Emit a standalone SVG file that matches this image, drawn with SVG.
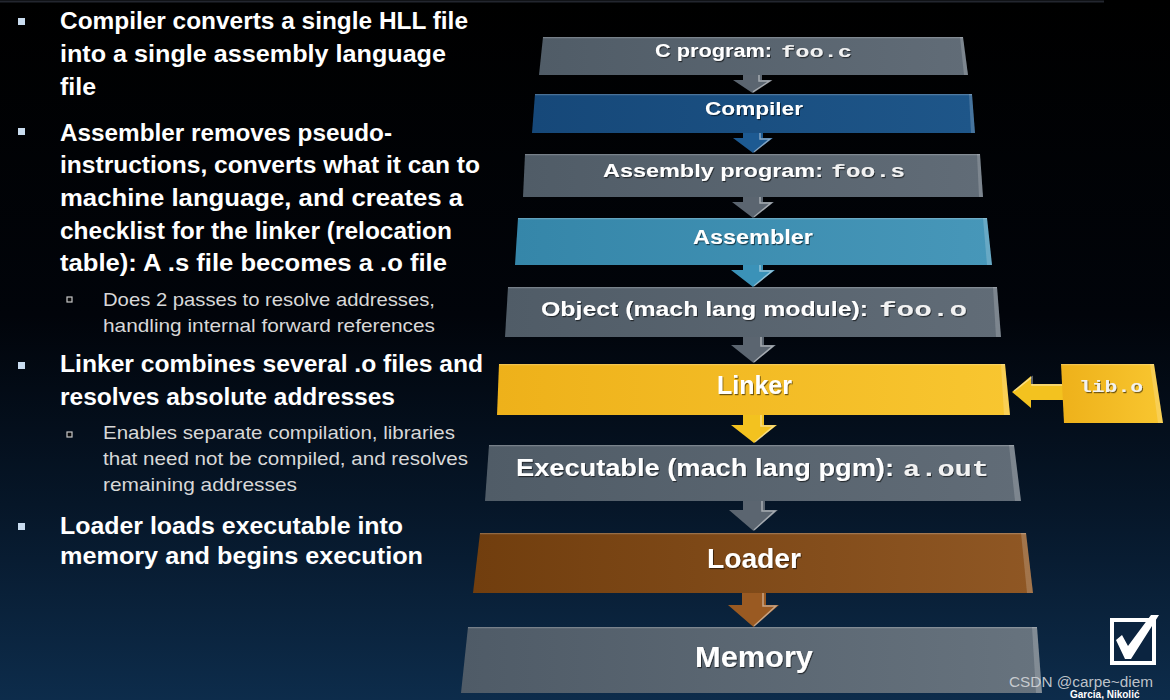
<svg xmlns="http://www.w3.org/2000/svg" width="1170" height="700" viewBox="0 0 1170 700">
<defs>
<linearGradient id="bg" x1="0" y1="0" x2="0" y2="1">
<stop offset="0" stop-color="#000000"/><stop offset="0.45" stop-color="#01040a"/><stop offset="0.72" stop-color="#061628"/><stop offset="1" stop-color="#0d2c4b"/>
</linearGradient>
<linearGradient id="gGray" x1="0" y1="0" x2="1" y2="0"><stop offset="0" stop-color="#505c67"/><stop offset="1" stop-color="#616c77"/></linearGradient>
<linearGradient id="gBlue" x1="0" y1="0" x2="1" y2="0"><stop offset="0" stop-color="#164879"/><stop offset="1" stop-color="#1e5689"/></linearGradient>
<linearGradient id="gTeal" x1="0" y1="0" x2="1" y2="0"><stop offset="0" stop-color="#3586a9"/><stop offset="1" stop-color="#4797b9"/></linearGradient>
<linearGradient id="gYel" x1="0" y1="0" x2="1" y2="0"><stop offset="0" stop-color="#eeb11a"/><stop offset="1" stop-color="#f8c630"/></linearGradient>
<linearGradient id="gBrown" x1="0" y1="0" x2="1" y2="0"><stop offset="0" stop-color="#713e0e"/><stop offset="1" stop-color="#8f5724"/></linearGradient>
<linearGradient id="gMem" x1="0" y1="0" x2="1" y2="0"><stop offset="0" stop-color="#4f5b67"/><stop offset="1" stop-color="#67737e"/></linearGradient>
<filter id="ts" x="-5%" y="-30%" width="110%" height="160%"><feDropShadow dx="1" dy="1.2" stdDeviation="0.6" flood-color="#000" flood-opacity="0.55"/></filter>
<style>
.b{font-family:"Liberation Sans",Arial,sans-serif;font-weight:bold;font-size:23px;fill:#ffffff}
.s{font-family:"Liberation Sans",Arial,sans-serif;font-size:18.5px;fill:#d8d8d8}
.bul{fill:#c9dcef}
.sub{fill:#0a0a0a;stroke:#c8c8c8;stroke-width:1.2}
.lbl{font-family:"Liberation Sans",Arial,sans-serif;font-weight:bold;fill:#ffffff;filter:url(#ts)}
.mono{font-family:"Liberation Mono","Courier New",monospace;font-weight:bold;fill:#f2f2f2;filter:url(#ts)}
.edge{fill:none;stroke:#ffffff;stroke-opacity:0.22;stroke-width:1.2}
.bev{fill:#ffffff;fill-opacity:0.18}
.aGray{fill:#5b6570}
.aBlue{fill:#1d5a92}
.aTeal{fill:#3b92b8}
.aYel{fill:#f3c21f}
.aBrown{fill:#9a5a22}
.hl{fill:none;stroke:#ffffff;stroke-opacity:0.45;stroke-width:1.5}
</style>
</defs>
<rect x="0" y="0" width="1170" height="700" fill="url(#bg)"/>
<line x1="0" y1="1.5" x2="1104" y2="1.5" stroke="#23262f" stroke-width="2"/>

<g id="notes">
<rect class="bul" x="18" y="18" width="7" height="7"/>
<text class="b" x="60" y="29" textLength="408" lengthAdjust="spacingAndGlyphs">Compiler converts a single HLL file</text>
<text class="b" x="60" y="62" textLength="386" lengthAdjust="spacingAndGlyphs">into a single assembly language</text>
<text class="b" x="60" y="95" textLength="36" lengthAdjust="spacingAndGlyphs">file</text>
<rect class="bul" x="18" y="128" width="7" height="7"/>
<text class="b" x="60" y="141" textLength="332" lengthAdjust="spacingAndGlyphs">Assembler removes pseudo-</text>
<text class="b" x="60" y="173" textLength="420" lengthAdjust="spacingAndGlyphs">instructions, converts what it can to</text>
<text class="b" x="60" y="206" textLength="403" lengthAdjust="spacingAndGlyphs">machine language, and creates a</text>
<text class="b" x="60" y="239" textLength="392" lengthAdjust="spacingAndGlyphs">checklist for the linker (relocation</text>
<text class="b" x="60" y="271" textLength="387" lengthAdjust="spacingAndGlyphs">table): A .s file becomes a .o file</text>
<rect class="sub" x="67" y="297" width="5" height="5"/>
<text class="s" x="103" y="306" textLength="332" lengthAdjust="spacingAndGlyphs">Does 2 passes to resolve addresses,</text>
<text class="s" x="103" y="332" textLength="332" lengthAdjust="spacingAndGlyphs">handling internal forward references</text>
<rect class="bul" x="18" y="362" width="7" height="7"/>
<text class="b" x="60" y="372" textLength="423" lengthAdjust="spacingAndGlyphs">Linker combines several .o files and</text>
<text class="b" x="60" y="405" textLength="335" lengthAdjust="spacingAndGlyphs">resolves absolute addresses</text>
<rect class="sub" x="67" y="432" width="5" height="5"/>
<text class="s" x="103" y="439" textLength="352" lengthAdjust="spacingAndGlyphs">Enables separate compilation, libraries</text>
<text class="s" x="103" y="465" textLength="365" lengthAdjust="spacingAndGlyphs">that need not be compiled, and resolves</text>
<text class="s" x="103" y="491" textLength="194" lengthAdjust="spacingAndGlyphs">remaining addresses</text>
<rect class="bul" x="18" y="523" width="7" height="7"/>
<text class="b" x="60" y="534" textLength="343" lengthAdjust="spacingAndGlyphs">Loader loads executable into</text>
<text class="b" x="60" y="564" textLength="363" lengthAdjust="spacingAndGlyphs">memory and begins execution</text>
</g>

<g id="connectors">
<polygon class="aGray" points="743,75 762,75 762,80 772,80 752.5,93 733,80 743,80"/>
<polyline class="hl" points="759,75 759,81 770,81 753,92"/>
<polygon class="aBlue" points="743,133 763,133 763,138 773,138 753,153 733,138 743,138"/>
<polyline class="hl" points="760,133 760,139 770,139 754,152"/>
<polygon class="aGray" points="743,197 763,197 763,202 774,202 753,218 732,202 743,202"/>
<polyline class="hl" points="760,197 760,203 771,203 754,217"/>
<polygon class="aTeal" points="743,265 763,265 763,270 775,270 753,287 731,270 743,270"/>
<polyline class="hl" points="760,265 760,271 772,271 754,286"/>
<polygon class="aGray" points="743,337 764,337 764,345 776,345 753.5,363 731,345 743,345"/>
<polyline class="hl" points="761,337 761,346 773,346 754,362"/>
<polygon class="aYel" points="743,415 764,415 764,425 777,425 754,443 731,425 743,425"/>
<polyline class="hl" points="761,415 761,426 774,426 755,442"/>
<polygon class="aGray" points="743,501 765,501 765,510 778,510 753.5,531 729,510 743,510"/>
<polyline class="hl" points="762,501 762,511 775,511 754,530"/>
<polygon class="aBrown" points="742,593 766,593 766,605 779,605 753.5,627 728,605 742,605"/>
<polyline class="hl" points="763,593 763,606 776,606 754,626"/>
<polygon class="aYel" points="1064,384 1031,384 1031,376 1012,392 1031,408 1031,400 1064,400"/>
<polyline class="hl" points="1064,385 1032,385 1032,377 1014,391"/>
</g>

<g id="n-cprog">
<polygon fill="url(#gGray)" points="543,37 963,37 968,75 539,75"/>
<polygon class="bev" points="960,37 963,37 968,75 964,75"/>
<line class="edge" x1="543" y1="37.6" x2="963" y2="37.6"/>
<text class="lbl" x="655" y="57" font-size="18" textLength="117" lengthAdjust="spacingAndGlyphs">C program:</text>
<text class="mono" x="781" y="57" font-size="17" textLength="71" lengthAdjust="spacingAndGlyphs">foo.c</text>
</g>

<g id="n-compiler">
<polygon fill="url(#gBlue)" points="535,94 972,94 975,133 532,133"/>
<polygon class="bev" points="969,94 972,94 975,133 971,133"/>
<line class="edge" x1="535" y1="94.6" x2="972" y2="94.6"/>
<text class="lbl" x="705" y="115" font-size="18" textLength="98" lengthAdjust="spacingAndGlyphs">Compiler</text>
</g>

<g id="n-asmprog">
<polygon fill="url(#gGray)" points="525,154 980,154 983,197 523,197"/>
<polygon class="bev" points="977,154 980,154 983,197 979,197"/>
<line class="edge" x1="525" y1="154.6" x2="980" y2="154.6"/>
<text class="lbl" x="603" y="177" font-size="19" textLength="220" lengthAdjust="spacingAndGlyphs">Assembly program:</text>
<text class="mono" x="831" y="177" font-size="18" textLength="74" lengthAdjust="spacingAndGlyphs">foo.s</text>
</g>

<g id="n-assembler">
<polygon fill="url(#gTeal)" points="518,218 987,218 992,265 515,265"/>
<polygon class="bev" points="983,218 987,218 992,265 987,265"/>
<line class="edge" x1="518" y1="218.6" x2="987" y2="218.6"/>
<text class="lbl" x="693" y="244" font-size="20" textLength="120" lengthAdjust="spacingAndGlyphs">Assembler</text>
</g>

<g id="n-object">
<polygon fill="url(#gGray)" points="508,287 997,287 1001,337 505,337"/>
<polygon class="bev" points="993,287 997,287 1001,337 996,337"/>
<line class="edge" x1="508" y1="287.6" x2="997" y2="287.6"/>
<text class="lbl" x="541" y="316" font-size="21" textLength="327" lengthAdjust="spacingAndGlyphs">Object (mach lang module):</text>
<text class="mono" x="879" y="316" font-size="20" textLength="88" lengthAdjust="spacingAndGlyphs">foo.o</text>
</g>

<g id="n-linker">
<polygon fill="url(#gYel)" points="499,364 1005,364 1010,415 497,415"/>
<polygon class="bev" points="1001,364 1005,364 1010,415 1004,415"/>
<line class="edge" x1="499" y1="364.6" x2="1005" y2="364.6"/>
<text class="lbl" x="717" y="394" font-size="26" textLength="75" lengthAdjust="spacingAndGlyphs">Linker</text>
</g>

<g id="n-lib">
<polygon fill="url(#gYel)" points="1061,364 1154,364 1163,423 1064,423"/>
<polygon class="bev" points="1150,364 1154,364 1163,423 1158,423"/>
<line class="edge" x1="1061" y1="364.6" x2="1154" y2="364.6"/>
<text class="mono" x="1079" y="392" font-size="16" textLength="64" lengthAdjust="spacingAndGlyphs">lib.o</text>
</g>

<g id="n-exec">
<polygon fill="url(#gGray)" points="489,445 1014,445 1021,501 485,501"/>
<polygon class="bev" points="1009,445 1014,445 1021,501 1015,501"/>
<line class="edge" x1="489" y1="445.6" x2="1014" y2="445.6"/>
<text class="lbl" x="516" y="476" font-size="24" textLength="378" lengthAdjust="spacingAndGlyphs">Executable (mach lang pgm):</text>
<text class="mono" x="903" y="476" font-size="22" textLength="86" lengthAdjust="spacingAndGlyphs">a.out</text>
</g>

<g id="n-loader">
<polygon fill="url(#gBrown)" points="480,533 1026,533 1033,593 473,593"/>
<polygon class="bev" points="1021,533 1026,533 1033,593 1027,593"/>
<line class="edge" x1="480" y1="533.6" x2="1026" y2="533.6"/>
<text class="lbl" x="707" y="568" font-size="28" textLength="94" lengthAdjust="spacingAndGlyphs">Loader</text>
</g>

<g id="n-memory">
<polygon fill="url(#gMem)" points="468,627 1037,627 1042,693 461,693"/>
<polygon class="bev" points="1032,627 1037,627 1042,693 1036,693"/>
<line class="edge" x1="468" y1="627.6" x2="1037" y2="627.6"/>
<text class="lbl" x="695" y="667" font-size="30" textLength="118" lengthAdjust="spacingAndGlyphs">Memory</text>
</g>

<g id="checkbox">
<rect x="1112" y="620" width="42" height="43" fill="#0b2440" stroke="#ffffff" stroke-width="4"/>
<polygon fill="#ffffff" points="1116,640 1122,635 1128,646 1151,615 1159,615 1131,659 1125,659"/>
</g>

<text x="1009" y="687" font-family="Liberation Sans, Arial, sans-serif" font-size="14" fill="#d4d6da" fill-opacity="0.9" textLength="144" lengthAdjust="spacingAndGlyphs">CSDN @carpe~diem</text>
<text x="1070" y="698" font-family="Liberation Sans, Arial, sans-serif" font-size="10" font-weight="bold" fill="#ffffff">Garcia, Nikolić</text>
</svg>
